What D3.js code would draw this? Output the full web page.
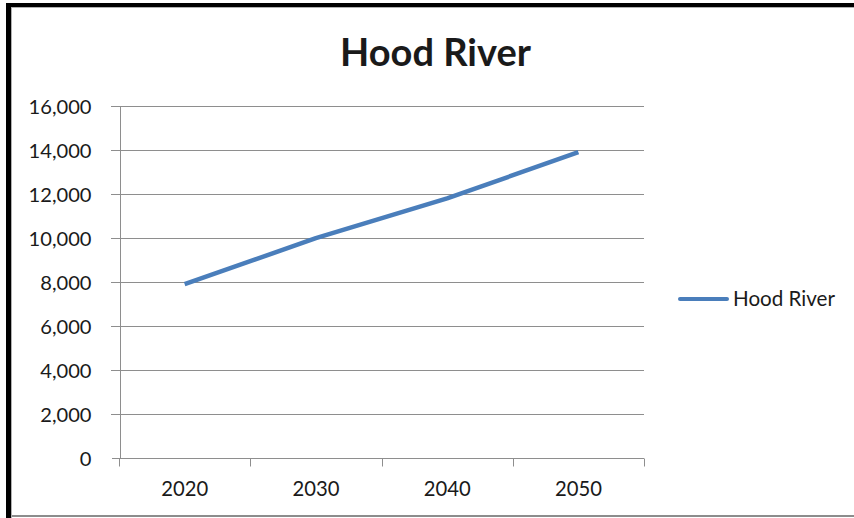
<!DOCTYPE html>
<html>
<head>
<meta charset="utf-8">
<script src="https://cdn.jsdelivr.net/npm/d3@7"></script>
<style>
  html, body { margin: 0; padding: 0; background: #fff; }
  svg { display: block; }
  text { font-family: Lato, "Open Sans", "Liberation Sans", sans-serif; fill: #1a1a1a; }
</style>
</head>
<body>
<svg id="chart" width="854" height="518"></svg>
<script>
const title = "Hood River";
const seriesName = "Hood River";
const years = ["2020", "2030", "2040", "2050"];
const values = [7900, 9990, 11800, 13900];
const yTicks = [0, 2000, 4000, 6000, 8000, 10000, 12000, 14000, 16000];

const W = 854, H = 518;
const plot = { left: 119, right: 644, top: 106, bottom: 458 };
const svg = d3.select("#chart");

svg.append("rect").attr("width", W).attr("height", H).attr("fill", "#fff");

// frame
svg.append("line").attr("x1", 12).attr("x2", W).attr("y1", 516).attr("y2", 516)
  .attr("stroke", "#8c8c8c").attr("stroke-width", 2);
svg.append("line").attr("x1", 12).attr("x2", W).attr("y1", 7.5).attr("y2", 7.5)
  .attr("stroke", "#b0b0b0").attr("stroke-width", 1);
svg.append("line").attr("x1", 11.5).attr("x2", 11.5).attr("y1", 7).attr("y2", H)
  .attr("stroke", "#b0b0b0").attr("stroke-width", 1);
svg.append("line").attr("x1", 6).attr("x2", W).attr("y1", 5).attr("y2", 5)
  .attr("stroke", "#000").attr("stroke-width", 4);
svg.append("line").attr("x1", 8.5).attr("x2", 8.5).attr("y1", 3).attr("y2", H)
  .attr("stroke", "#000").attr("stroke-width", 5);

const x = d3.scaleBand().domain(years).range([plot.left, plot.right]).paddingInner(0).paddingOuter(0);
const y = d3.scaleLinear().domain([0, 16000]).range([plot.bottom, plot.top]);

function fit(sel, target) {
  const fs = parseFloat(sel.attr("font-size"));
  const w = sel.node().getComputedTextLength();
  sel.attr("font-size", (fs * target / w).toFixed(2));
}

// gridlines
const grid = svg.append("g");
grid.selectAll("line").data(yTicks.filter(d => d > 0)).join("line")
  .attr("x1", plot.left - 8).attr("x2", plot.right)
  .attr("y1", d => Math.round(y(d)) + 0.5).attr("y2", d => Math.round(y(d)) + 0.5)
  .attr("stroke", "#8e8e8e").attr("stroke-width", 1);

// y axis
const yAxis = svg.append("g").attr("transform", `translate(${plot.left + 0.5},0)`)
  .call(d3.axisLeft(y).tickValues(yTicks).tickSize(8).tickPadding(20)
    .tickFormat(d3.format(",")));
yAxis.select(".domain").attr("stroke", "#8e8e8e");
yAxis.selectAll(".tick line").attr("stroke", "#8e8e8e");
yAxis.selectAll(".tick text").attr("font-size", 19).attr("fill", "#1a1a1a")
  .attr("font-family", null).attr("dy", "0.35em");

// x axis
const xAxis = svg.append("g").attr("transform", `translate(0,${Math.round(plot.bottom) + 0.5})`)
  .call(d3.axisBottom(x).tickSize(0).tickPadding(23));
xAxis.select(".domain").attr("d", `M${plot.left},0H${plot.right}`).attr("stroke", "#8e8e8e");
xAxis.selectAll(".tick text").attr("font-size", 18).attr("fill", "#1a1a1a").attr("font-family", null);
const bounds = years.map(d => x(d)).concat([x(years[years.length - 1]) + x.bandwidth()]);
xAxis.append("g").selectAll("line").data(bounds).join("line")
  .attr("x1", d => Math.round(d) + 0.5).attr("x2", d => Math.round(d) + 0.5)
  .attr("y1", 0).attr("y2", 8).attr("stroke", "#8e8e8e");

svg.selectAll(".domain, .tick line").attr("shape-rendering", "crispEdges");

// fit label sizes
const yt = yAxis.selectAll(".tick text").filter(d => d === 16000);
fit(yt, 63);
const yfs = yt.attr("font-size");
yAxis.selectAll(".tick text").attr("font-size", yfs);
const xt = xAxis.selectAll(".tick text").filter(d => d === "2020");
fit(xt, 47);
xAxis.selectAll(".tick text").attr("font-size", xt.attr("font-size"));

// line
const line = d3.line().x((d, i) => x(years[i]) + x.bandwidth() / 2).y(d => y(d));
svg.append("path").datum(values).attr("d", line)
  .attr("fill", "none").attr("stroke", "#4a7ebb").attr("stroke-width", 4.5)
  .attr("stroke-linejoin", "round");

// title
const t = svg.append("text").attr("x", 435.5).attr("y", 65.5).attr("text-anchor", "middle")
  .attr("font-weight", "bold").attr("font-size", 32).attr("fill", "#000").text(title);
fit(t, 191);

// legend
svg.append("line").attr("x1", 680).attr("x2", 727).attr("y1", 299).attr("y2", 299)
  .attr("stroke", "#4a7ebb").attr("stroke-width", 4).attr("stroke-linecap", "round");
const lt = svg.append("text").attr("x", 733).attr("y", 305.5).attr("font-size", 18).text(seriesName);
fit(lt, 102);
</script>
</body>
</html>
